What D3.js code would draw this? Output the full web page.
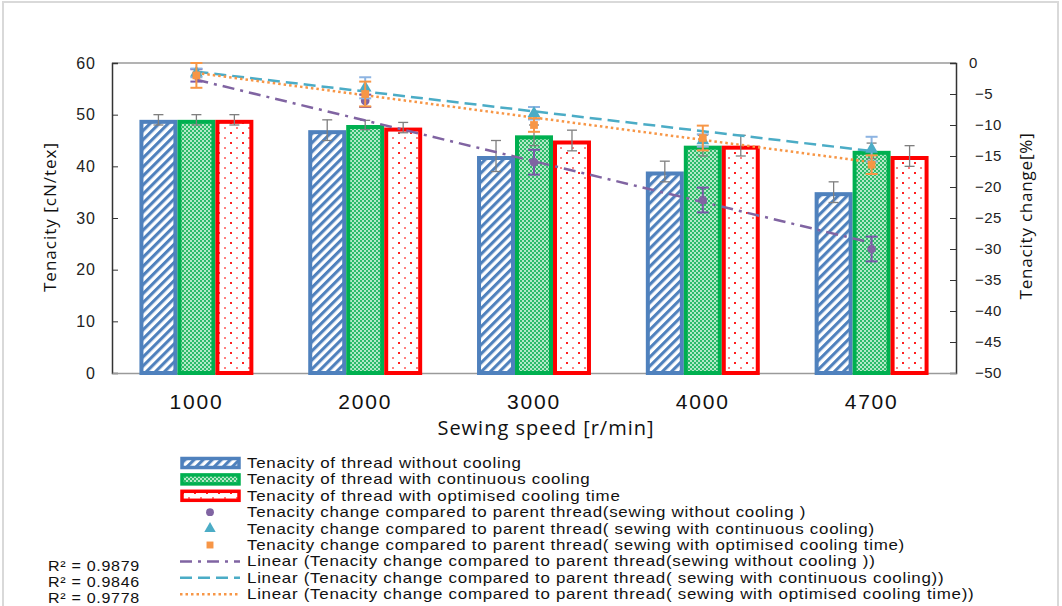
<!DOCTYPE html>
<html>
<head>
<meta charset="utf-8">
<script src="https://cdn.jsdelivr.net/npm/d3@7"></script>
<style>
	body { margin: 0; background: #fff; }
	svg { display: block; font-family: "Open Sans", sans-serif; }
</style>
</head>
<body>
<svg id="chart" width="1062" height="606"></svg>
<script>
// data
var speeds = ["1000", "2000", "3000", "4000", "4700"];
var tenNoCool = [49, 47, 42, 39, 35];
var tenContCool = [49, 48, 46, 44, 43];
var tenOptCool = [49, 47.5, 45, 44, 42];
var errNoCool = [1, 2, 3, 2, 2];
var errContCool = [1, 0.9, 2, 2, 1.5];
var errOptCool = [1, 1, 2, 2, 2];

var chgNoCool = [-2, -6.1, -16, -22.1, -30];
var chgContCool = [-1.6, -4, -8.1, -12.5, -13.9];
var chgOptCool = [-2, -5, -10, -12.1, -16.4];
var errChgNoCool = [1, 1, 2, 2, 2];
var errChgContCool = [0.7, 1.7, 1, 1, 2];
var errChgOptCool = [2, 2, 1.1, 2, 1.5];

// trendline ends (first and last category)
var trendNoCool = [-2.7, -29];
var trendContCool = [-1.4, -14.2];
var trendOptCool = [-1.6, -16];
var rSquared = ["0.9879", "0.9846", "0.9778"];

var leftTicks = [0, 10, 20, 30, 40, 50, 60];
var rightTicks = [0, -5, -10, -15, -20, -25, -30, -35, -40, -45, -50];

var svg = d3.select("#chart");
var plot = {left: 112, right: 956, top: 63, bottom: 373};

var blue = "#4f81bd", green = "#00b050", red = "#ff0000";
var purple = "#8064a2", cyan = "#4bacc6", orange = "#f79646";

// outer frame
svg.append("rect")
	.attr("x", 3).attr("y", 2).attr("width", 1055).attr("height", 620)
	.attr("fill", "none").attr("stroke", "#d9d9d9").attr("stroke-width", 2);

// patterns
var defs = svg.append("defs");
defs.append("pattern")
	.attr("id", "hatch").attr("patternUnits", "userSpaceOnUse")
	.attr("width", 6.4).attr("height", 6.4)
	.attr("patternTransform", "rotate(45)")
	.call(function (p) {
		p.append("rect").attr("width", 6.4).attr("height", 6.4).attr("fill", "#fff");
		p.append("rect").attr("width", 3.1).attr("height", 6.4).attr("fill", blue);
	});
defs.append("pattern")
	.attr("id", "grid").attr("patternUnits", "userSpaceOnUse")
	.attr("width", 4).attr("height", 4)
	.call(function (p) {
		p.append("rect").attr("width", 4).attr("height", 4).attr("fill", "#b4e9c8");
		p.append("rect").attr("width", 2).attr("height", 2).attr("fill", "#2dbb6a");
		p.append("rect").attr("x", 2).attr("y", 2).attr("width", 2).attr("height", 2).attr("fill", "#2dbb6a");
	});
defs.append("pattern")
	.attr("id", "dots").attr("patternUnits", "userSpaceOnUse")
	.attr("width", 12).attr("height", 10)
	.call(function (p) {
		p.append("rect").attr("width", 12).attr("height", 10).attr("fill", "#fff");
		p.append("rect").attr("x", 2).attr("y", 2).attr("width", 2).attr("height", 2).attr("fill", "#ff2020");
		p.append("rect").attr("x", 8).attr("y", 7).attr("width", 2).attr("height", 2).attr("fill", "#ff8080");
	});

// scales
var x = d3.scaleBand().domain(speeds)
	.range([plot.left, plot.right])
	.paddingInner(0.325).paddingOuter(0.1625);
var xs = d3.scaleBand().domain([0, 1, 2]).range([0, x.bandwidth()]);
var yL = d3.scaleLinear().domain([0, 60]).range([plot.bottom, plot.top]);
var yR = d3.scaleLinear().domain([-50, 0]).range([plot.bottom, plot.top]);

// plot box top line
svg.append("line")
	.attr("x1", plot.left).attr("x2", plot.right)
	.attr("y1", plot.top).attr("y2", plot.top)
	.attr("stroke", "#9a9a9a").attr("stroke-width", 1.5);

// axes
var axL = svg.append("g")
	.attr("transform", "translate(" + plot.left + ",0)")
	.call(d3.axisRight(yL).tickValues(leftTicks).tickSize(6).tickFormat(d3.format("d")));
axL.select(".domain").attr("stroke", "#333").attr("stroke-width", 1.5);
axL.selectAll(".tick line").attr("stroke", "#333");
axL.selectAll(".tick text")
	.attr("x", -16).attr("text-anchor", "end")
	.attr("font-size", 16).attr("letter-spacing", 1).attr("fill", "#222");

var axR = svg.append("g")
	.attr("transform", "translate(" + plot.right + ",0)")
	.call(d3.axisLeft(yR).tickValues(rightTicks).tickSize(6).tickFormat(d3.format("d")));
axR.select(".domain").attr("stroke", "#333").attr("stroke-width", 1.5);
axR.selectAll(".tick line").attr("stroke", "#333");
axR.selectAll(".tick text")
	.attr("x", function (d) { return d === 0 ? 13 : 19; })
	.attr("text-anchor", "start")
	.attr("font-size", 15).attr("letter-spacing", 0.5).attr("fill", "#222");

var axB = svg.append("g")
	.attr("transform", "translate(0," + plot.bottom + ")")
	.call(d3.axisTop(x).tickSize(4).tickSizeOuter(0));
axB.select(".domain").attr("stroke", "#9a9a9a").attr("stroke-width", 1.5);
axB.selectAll(".tick line").attr("stroke", "#333");
axB.selectAll(".tick text")
	.attr("y", 36).attr("font-size", 21).attr("letter-spacing", 1.8).attr("fill", "#111");

// axis titles
svg.append("text")
	.attr("x", 546).attr("y", 435).attr("text-anchor", "middle")
	.attr("font-size", 20).attr("letter-spacing", 1).attr("fill", "#111")
	.text("Sewing speed [r/min]");
svg.append("text")
	.attr("transform", "translate(56,217) rotate(-90)")
	.attr("text-anchor", "middle").attr("font-size", 17).attr("letter-spacing", 1).attr("fill", "#111")
	.text("Tenacity [cN/tex]");
svg.append("text")
	.attr("transform", "translate(1032,216) rotate(-90)")
	.attr("text-anchor", "middle").attr("font-size", 17).attr("letter-spacing", 0.8).attr("fill", "#111")
	.text("Tenacity change[%]");

// bars
var barSeries = [
	{vals: tenNoCool, err: errNoCool, fill: "url(#hatch)", stroke: blue},
	{vals: tenContCool, err: errContCool, fill: "url(#grid)", stroke: green},
	{vals: tenOptCool, err: errOptCool, fill: "url(#dots)", stroke: red}
];
barSeries.forEach(function (s, si) {
	var g = svg.append("g");
	g.selectAll("rect")
		.data(s.vals)
		.enter().append("rect")
		.attr("x", function (d, i) { return x(speeds[i]) + xs(si) + 2; })
		.attr("y", function (d) { return yL(d) + 2; })
		.attr("width", xs.bandwidth() - 4)
		.attr("height", function (d) { return yL(0) - yL(d) - 2; })
		.attr("fill", s.fill)
		.attr("stroke", s.stroke)
		.attr("stroke-width", 4);
});
// bar error bars
barSeries.forEach(function (s, si) {
	var g = svg.append("g").attr("stroke", "#7f7f7f").attr("stroke-width", 1.3);
	s.vals.forEach(function (v, i) {
		var cx = x(speeds[i]) + xs(si) + xs.bandwidth() / 2;
		var e = s.err[i];
		g.append("line").attr("x1", cx).attr("x2", cx).attr("y1", yL(v + e)).attr("y2", yL(v - e));
		g.append("line").attr("x1", cx - 5).attr("x2", cx + 5).attr("y1", yL(v + e)).attr("y2", yL(v + e));
		g.append("line").attr("x1", cx - 5).attr("x2", cx + 5).attr("y1", yL(v - e)).attr("y2", yL(v - e));
	});
});

// trendlines
var cx0 = x(speeds[0]) + x.bandwidth() / 2, cx1 = x(speeds[4]) + x.bandwidth() / 2;
var trends = [
	{vals: trendNoCool, color: purple, dash: "12,6,3,6", w: 2.5},
	{vals: trendContCool, color: cyan, dash: "12,6", w: 2.5},
	{vals: trendOptCool, color: orange, dash: "2.5,3", w: 2.5}
];
trends.forEach(function (t) {
	svg.append("line")
		.attr("x1", cx0).attr("y1", yR(t.vals[0]))
		.attr("x2", cx1).attr("y2", yR(t.vals[1]))
		.attr("stroke", t.color).attr("stroke-width", t.w)
		.attr("stroke-dasharray", t.dash);
});

// scatter with error bars
var pointSeries = [
	{vals: chgNoCool, err: errChgNoCool, color: purple, errColor: "#7a58a8", shape: d3.symbolCircle, size: 60},
	{vals: chgContCool, err: errChgContCool, color: cyan, errColor: "#8db4e2", shape: d3.symbolTriangle, size: 70},
	{vals: chgOptCool, err: errChgOptCool, color: orange, errColor: orange, shape: d3.symbolSquare, size: 60}
];
pointSeries.forEach(function (s) {
	var g = svg.append("g").attr("stroke", s.errColor).attr("stroke-width", 2);
	s.vals.forEach(function (v, i) {
		var cx = x(speeds[i]) + x.bandwidth() / 2;
		var e = s.err[i];
		g.append("line").attr("x1", cx).attr("x2", cx).attr("y1", yR(v + e)).attr("y2", yR(v - e));
		g.append("line").attr("x1", cx - 6).attr("x2", cx + 6).attr("y1", yR(v + e)).attr("y2", yR(v + e));
		g.append("line").attr("x1", cx - 6).attr("x2", cx + 6).attr("y1", yR(v - e)).attr("y2", yR(v - e));
	});
	svg.append("g").selectAll("path")
		.data(s.vals)
		.enter().append("path")
		.attr("transform", function (d, i) { return "translate(" + (x(speeds[i]) + x.bandwidth() / 2) + "," + yR(d) + ")"; })
		.attr("d", d3.symbol().type(s.shape).size(s.size))
		.attr("fill", s.color);
});

// legend
var legendItems = [
	{type: "bar", fill: "url(#hatch)", stroke: blue, label: "Tenacity of thread without cooling"},
	{type: "bar", fill: "url(#grid)", stroke: green, label: "Tenacity of thread with continuous cooling"},
	{type: "bar", fill: "url(#dots)", stroke: red, label: "Tenacity of thread with optimised cooling time"},
	{type: "pt", s: pointSeries[0], label: "Tenacity change compared to parent thread(sewing without cooling )"},
	{type: "pt", s: pointSeries[1], label: "Tenacity change compared to parent thread( sewing with continuous cooling)"},
	{type: "pt", s: pointSeries[2], label: "Tenacity change compared to parent thread( sewing with optimised cooling time)"},
	{type: "line", t: trends[0], label: "Linear (Tenacity change compared to parent thread(sewing without cooling ))"},
	{type: "line", t: trends[1], label: "Linear (Tenacity change compared to parent thread( sewing with continuous cooling))"},
	{type: "line", t: trends[2], label: "Linear (Tenacity change compared to parent thread( sewing with optimised cooling time))"}
];
var legend = svg.append("g");
var labels = [];
legendItems.forEach(function (it, i) {
	var y = 463 + i * 16.4;
	if (it.type === "bar") {
		legend.append("rect")
			.attr("x", 182).attr("y", y - 4.5).attr("width", 57).attr("height", 9)
			.attr("fill", it.fill).attr("stroke", it.stroke).attr("stroke-width", 3.5);
	} else if (it.type === "pt") {
		legend.append("path")
			.attr("transform", "translate(210," + y + ")")
			.attr("d", d3.symbol().type(it.s.shape).size(it.s.size * 0.8))
			.attr("fill", it.s.color);
	} else {
		legend.append("line")
			.attr("x1", 180).attr("x2", 240).attr("y1", y).attr("y2", y)
			.attr("stroke", it.t.color).attr("stroke-width", it.t.w)
			.attr("stroke-dasharray", it.t.dash);
	}
	labels.push(legend.append("text")
		.attr("data-y", y + 5)
		.attr("font-family", "'Liberation Sans', Arial, sans-serif")
		.attr("font-size", 14).attr("letter-spacing", 0.6).attr("fill", "#111")
		.text(it.label));
});
// the source legend text is stretched sideways: fit the longest line to its width
var longest = d3.max(labels, function (t) { return t.node().getComputedTextLength(); });
var sx = 728 / longest;
labels.forEach(function (t) {
	t.attr("transform", "translate(247," + t.attr("data-y") + ") scale(" + sx + ",1)");
});

// R squared labels, stretched the same way
rSquared.forEach(function (r, i) {
	var t = svg.append("text")
		.attr("font-family", "'Liberation Sans', Arial, sans-serif")
		.attr("font-size", 14).attr("letter-spacing", 0.6).attr("fill", "#111")
		.text("R² = " + r);
	var k = 92 / t.node().getComputedTextLength();
	t.attr("transform", "translate(48," + (571 + i * 16) + ") scale(" + k + ",1)");
});
</script>
</body>
</html>
